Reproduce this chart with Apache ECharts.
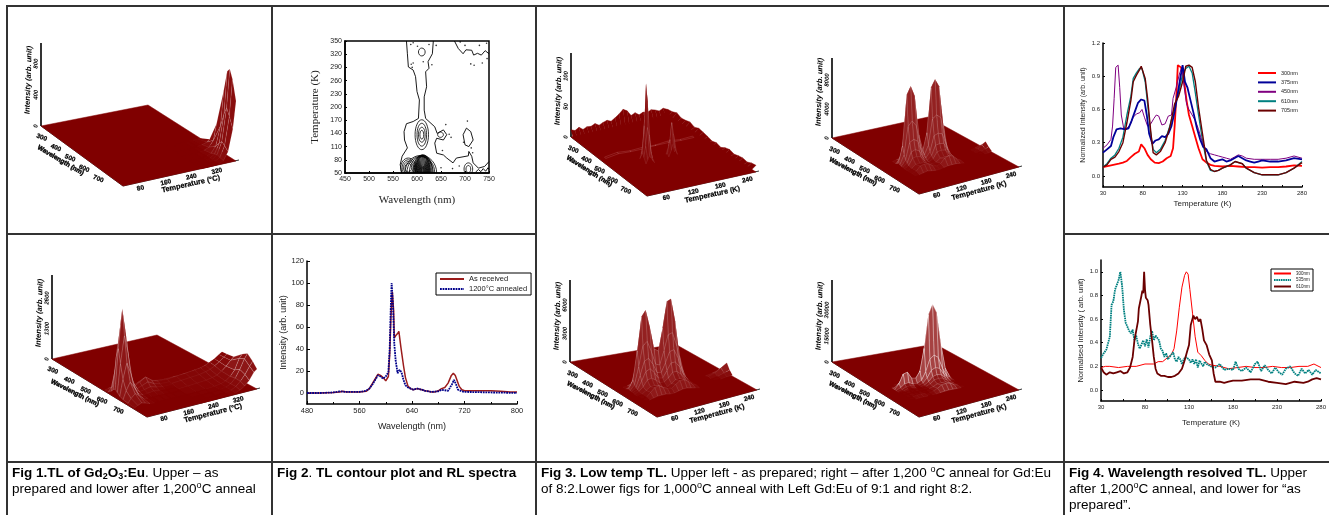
<!DOCTYPE html>
<html><head><meta charset="utf-8">
<style>html,body{margin:0;padding:0;background:#fff}#c{width:1329px;height:515px}</style>
<script src="https://cdn.jsdelivr.net/npm/echarts@6/dist/echarts.min.js"></script>
</head><body><div id="c"></div>
<script>
/* ---------- DATA: Fig 1 surfaces ---------- */
const fig1WavelengthTicks=[300,400,500,600,700];
const fig1TemperatureTicks=[80,160,240,320];
const fig1UpperIntensityTicks=[0,400,800];
const fig1LowerIntensityTicks=[0,1300,2600];
const fig1UpperRows=[643,701,747,794,817,834,852,875];
const fig1UpperCols=[270,290,310,325,340,355,370,380];
const fig1UpperI=[
[0,0,0,0,0,1,3,4],
[0,0,0,1,5,13,32,65],
[0,0,1,4,13,38,115,320],
[0,0,3,10,32,115,360,800],
[0,0,4,15,50,180,540,1080],
[0,0,4,20,65,220,640,1128],
[0,0,4,15,50,190,550,1020],
[0,0,3,10,38,140,420,770]];
const fig1LowerPeakRows=[610,630,650,660,672,685,700,720,750,790];
const fig1LowerPeakCols=[30,40,53,65,80,95,110,130,150,170,200];
const fig1LowerPeakI=[
[6,40,70,50,14,5,7,10,6,4,4],
[24,160,290,200,56,20,28,40,24,16,14],
[135,900,1650,1120,315,112,158,225,135,90,81],
[240,1600,2930,2000,560,200,280,400,240,160,144],
[300,2000,3660,2500,700,250,350,500,300,200,180],
[210,1400,2560,1750,490,175,245,350,210,140,126],
[120,800,1460,1000,280,100,140,200,120,80,72],
[60,400,730,500,140,50,70,100,60,40,36],
[30,200,366,250,70,25,35,50,30,20,18],
[12,80,146,100,28,10,14,20,12,8,7]];
const fig1LowerWallRows=[650,672,700,740,790,820,850,875];
const fig1LowerWallCols=[200,230,260,290,310,325,340,355,370,380];
const fig1LowerWallI=[
[90,100,100,120,140,170,230,300,380,440],
[180,220,250,290,320,380,470,560,700,780],
[120,150,180,210,260,320,420,550,700,800],
[50,70,100,130,170,230,350,520,720,840],
[20,30,45,70,110,180,330,560,1000,1150],
[10,15,25,50,90,180,370,700,1100,1300],
[8,12,20,40,80,190,360,600,900,1080],
[5,8,15,30,60,140,260,450,750,850]];
/* ---------- DATA: Fig 3 surfaces ---------- */
const fig3WavelengthTicks=[300,400,500,600,700];
const fig3TemperatureTicks=[60,120,180,240];
const fig3ULIntensityTicks=[0,50,100];
const fig3URIntensityTicks=[0,4000,8000];
const fig3LLIntensityTicks=[0,3000,6000];
const fig3LRIntensityTicks=[0,15000,30000];
const fig3ULBackCols=[17,27,37,47,57,67,77,87,97,107,117,127,137,147,157,167,177,187,197,207,217,227,237,247,259];
const fig3ULBackRows=[283,300];
const fig3ULBackI=[
[12,9,13,8,11,10,13,9,12,14,11,15,20,26,22,13,16,11,14,12,15,13,10,13,9],
[0,0,0,0,0,0,0,0,0,0,0,0,0,0,0,0,0,0,0,0,0,0,0,0,0]];
const fig3ULSideRows=[283,312,341,370,399,428,457,486,515,544,573,602,631,660,689,718,747,776,805,834,863];
const fig3ULSideCols=[240,259];
const fig3ULSideI=[[0,9],[0,10],[0,13],[0,9],[0,10],[0,12],[0,8],[0,11],[0,9],[0,7],[0,4],[0,6],[0,3],[0,7],[0,9],[0,6],[0,8],[0,9],[0,7],[0,10],[0,11]];
const fig3ULGhostRows=[498,506];
const fig3ULGhostCols=[30,60,90,120,150,180,210,240];
const fig3ULGhostI=[[1,4,2,3,2,4,2,3],[0,3,2,2,3,3,2,2]];
const fig3ULSpikeRows=[590,600,610,620,635];
const fig3ULSpikeCols=[84,88,92,96,100,104];
const fig3ULSpikeI=[[5,10,14,12,8,4],[15,30,70,55,25,10],[22,62,131,100,45,15],[12,30,60,45,20,8],[4,10,16,12,7,3]];
const fig3ULSpike2Rows=[600,610,620];
const fig3ULSpike2Cols=[142,148,152,156,162];
const fig3ULSpike2I=[[5,18,30,22,6],[8,30,57,38,10],[4,14,25,16,5]];
const fig3PeakRows=[570,590,600,610,620,630,640,650,670,700,720];
const fig3URCols=[60,70,80,90,100,110,120,130,140,150,160,170,180];
const fig3URHundreds=[
[0,1,2,3,3,1,0,1,3,3,3,1,0],
[0,4,14,16,14,6,2,5,15,16,15,6,1],
[1,12,47,52,48,20,6,18,50,53,50,22,3],
[3,25,94,105,90,35,12,35,96,106,95,42,6],
[2,14,52,58,50,20,7,19,54,58,53,23,3],
[1,8,31,34,30,12,4,11,32,34,32,14,2],
[1,5,19,21,18,7,2,7,20,21,20,9,1],
[0,3,12,13,11,4,1,4,12,13,12,5,1],
[0,2,6,6,6,2,1,2,6,6,6,3,0],
[0,2,8,9,8,4,2,4,10,12,10,4,1],
[0,0,1,2,1,0,0,1,2,2,2,1,0]];
const fig3BumpRows=[630,650,670,690];
const fig3URBumpCols=[230,240,250,259];
const fig3URBumpHundreds=[[0,1,3,4],[0,2,7,10],[0,1,3,5],[0,0,0,1]];
const fig3LLCols=[40,50,60,70,80,90,100,110,120,130,140,150,160,170];
const fig3LLHundreds=[
[0,0,2,3,3,2,2,1,2,3,3,2,1,0],
[0,2,9,16,18,14,8,8,13,19,19,14,5,1],
[1,5,22,41,45,34,21,19,32,47,48,34,14,3],
[2,10,40,75,81,62,38,35,58,85,87,62,25,6],
[1,6,24,45,49,37,23,21,35,51,52,37,15,4],
[1,4,16,30,32,25,15,14,23,34,35,25,10,2],
[1,3,11,20,22,17,10,9,16,23,23,17,7,2],
[0,2,6,12,13,10,6,6,9,14,14,10,4,1],
[0,1,4,7,7,6,3,3,5,8,8,6,2,1],
[0,1,5,9,10,7,5,4,7,10,10,7,3,1],
[0,0,1,2,2,2,1,1,2,3,3,2,1,0]];
const fig3LLBumpCols=[215,230,245,259];
const fig3LLBumpHundreds=[[0,1,3,4],[1,3,7,11],[0,1,3,5],[0,0,1,1]];
const fig3LRCols=[50,60,70,80,90,100,110,120,130,140,150,160,170,180];
const fig3LRHundreds=[
[0,0,1,1,0,0,1,2,4,5,4,2,1,0],
[0,2,6,6,3,3,5,15,28,31,28,15,5,1],
[1,17,44,47,25,22,41,110,215,245,215,110,33,6],
[2,30,80,85,45,40,75,200,390,445,390,200,60,10],
[1,11,28,30,16,14,26,70,137,156,137,70,21,4],
[0,6,16,17,9,8,15,40,78,89,78,40,12,2],
[0,4,10,10,5,5,9,24,47,53,47,24,7,1],
[0,2,6,7,4,3,6,16,32,36,32,16,5,1],
[0,2,4,4,2,2,4,10,20,22,20,10,3,1],
[0,2,6,7,4,3,6,16,30,33,28,14,4,1],
[0,0,1,1,0,0,1,2,4,5,4,2,1,0]];
/* ---------- DATA: Fig 2 contour ---------- */
const contourLeft=[[578,350],[580,321],[582,291],[592,284],[597,269],[600,235],[605,216],[603,174],[592,167],[578,162],[573,144],[574,125],[580,107],[569,88],[565,69],[568,50]];
const contourRight=[[634,350],[632,321],[623,303],[625,288],[618,280],[620,246],[615,223],[615,193],[618,174],[637,155],[642,140],[655,148],[662,137],[655,125],[641,129],[637,118],[641,95],[655,91],[662,84],[675,73],[682,84],[707,89],[708,99],[714,88],[717,73],[728,61],[741,65],[750,76]];
const contourTopRight=[[678,350],[686,333],[696,321],[702,330],[714,329],[718,318],[726,322],[734,318],[742,328],[750,321]];
const contourIsland=[[703,152],[712,144],[717,125],[708,110],[700,114],[696,137],[703,152]];
const contourSquiggle=[[722,52],[728,58],[733,53],[738,60],[743,54],[748,62],[750,58]];
const contourRings=[[610,325,7,9],[610,137,14,34],[610,137,10,26],[610,137,7,17],[610,137,4,10],[649,137,6,6],
[707,59,9,14],[707,59,5,8],
[582,62,16,22],[582,62,13,18],[582,62,10,14],[582,62,7,10],
[608,50,33,40],[608,50,29,38],[609,50,25,37],
[612,55,20,36],[612,55,18,36],[612,55,16,35],[612,55,15,34],[612,55,14,33],[612,55,13,32],[612,55,12,30],[612,55,11,28],[612,55,10,26],[612,55,9,24],[612,55,8,22],[612,55,7,20],[612,55,6,18],[612,55,5,16],[612,55,4,14],[612,55,3,12],[612,55,2,10],[612,55,1,8]];
const contourDots=[[587,342],[592,346],[601,338],[625,342],[613,303],[588,297],[590,290],[592,300],[631,296],[640,340],[667,138],[671,131],[660,160],[705,168],[713,107],[697,120],[653,101],[688,66],[674,60],[650,62],[716,96],[690,348],[700,340],[730,340],[745,345],[736,300],[712,298],[719,295],[746,310]];
const contourYTicks=[50,80,110,140,170,200,230,260,290,320,350];
/* ---------- DATA: Fig 2 spectra ---------- */
const spectrumAsReceived=[[480,0],[500,0],[520,.5],[530,1],[534,1.5],[540,1],[550,.8],[560,1],[570,1.5],[575,4],[580,9],[585,14],[588,17],[592,16],[596,14],[600,11],[604,15],[606,35],[608,70],[610,92],[612,75],[613,50],[615,52],[618,54],[620,56],[623,42],[627,25],[630,14],[634,6],[638,4],[642,3],[648,4],[655,3],[660,2],[665,1.5],[670,1],[675,1],[680,2],[685,4],[690,5],[695,9],[700,16],[703,18],[706,16],[709,11],[712,6],[716,3],[720,2],[740,2],[760,2],[775,1.5],[790,1],[800,1]];
const spectrumAnnealed=[[480,0],[500,0],[520,.5],[530,1.5],[540,1],[560,1],[570,2],[575,4],[580,8],[585,13],[588,16],[592,15],[596,13],[600,15],[604,19],[606,40],[608,85],[609,100],[611,80],[613,45],[615,30],[618,18],[621,21],[624,19],[627,12],[630,7],[634,5],[638,4],[642,3],[648,4],[655,3],[660,2],[665,1.5],[670,1],[680,1.5],[685,3],[690,2.5],[695,2],[698,2],[701,8],[704,12],[707,8],[710,3],[716,1.5],[720,1],[740,.8],[760,.5],[780,.3],[800,0]];
const spectrumYTicks=[0,20,40,60,80,100,120];
/* ---------- DATA: Fig 4 ---------- */
const tlUpper300=[[30,.08],[40,.095],[50,.11],[55,.12],[60,.135],[65,.17],[70,.2],[75,.22],[78,.285],[82,.25],[86,.19],[90,.15],[95,.12],[100,.115],[105,.13],[110,.16],[115,.18],[118,.25],[120,.45],[122,.7],[124,1],[128,.98],[130,.97],[132,.85],[135,.68],[138,.55],[142,.45],[146,.35],[150,.25],[155,.15],[160,.12],[165,.1],[170,.09],[180,.085],[190,.09],[200,.085],[210,.08],[220,.08],[230,.075],[240,.08],[250,.08],[260,.085],[270,.095],[280,.09]];
const tlUpper375=[[30,.21],[35,.24],[40,.27],[43,.35],[47,.42],[52,.43],[58,.42],[62,.43],[66,.5],[70,.58],[74,.66],[78,.69],[82,.68],[85,.55],[88,.38],[92,.29],[96,.32],[100,.33],[104,.36],[108,.35],[112,.38],[116,.45],[120,.58],[124,.75],[127,.88],[130,1],[133,.85],[136,.8],[140,.68],[144,.56],[148,.43],[152,.33],[156,.26],[160,.24],[165,.16],[170,.13],[175,.14],[180,.15],[185,.13],[190,.14],[195,.16],[200,.18],[205,.16],[210,.14],[215,.13],[220,.12],[225,.13],[230,.14],[240,.13],[250,.13],[260,.14],[270,.16],[280,.15]];
const tlUpper450=[[30,.25],[35,.28],[40,.33],[42,.45],[44,.7],[46,.98],[49,1],[51,.8],[53,.55],[56,.43],[60,.43],[64,.46],[68,.53],[72,.56],[76,.57],[79,.6],[82,.53],[86,.45],[90,.47],[94,.52],[97,.55],[100,.54],[104,.46],[108,.47],[112,.54],[116,.55],[118,.7],[122,.8],[126,.92],[129,.98],[132,.8],[135,.65],[138,.6],[142,.55],[146,.5],[150,.42],[155,.3],[160,.22],[165,.2],[170,.19],[175,.18],[180,.17],[185,.16],[190,.15],[195,.17],[200,.19],[205,.18],[210,.16],[220,.15],[230,.15],[240,.15],[250,.15],[260,.16],[270,.18],[280,.16]];
const tlUpper610=[[30,.08],[35,.11],[40,.16],[45,.19],[50,.25],[55,.35],[60,.55],[65,.72],[68,.88],[72,.93],[76,.97],[79,.97],[83,.85],[86,.65],[90,.38],[93,.24],[97,.21],[102,.24],[108,.32],[114,.45],[120,.62],[125,.75],[130,.92],[134,.97],[138,.99],[142,.93],[146,.75],[150,.55],[155,.32],[160,.13],[165,.05],[170,.04],[175,.05],[180,.07],[190,.1],[196,.13],[205,.11],[210,.07],[220,.03],[230,.01],[240,.01],[250,.01],[260,.03],[270,.07],[280,.13]];
const tlUpper705=[[30,.08],[35,.1],[40,.15],[45,.17],[50,.22],[55,.3],[60,.48],[65,.68],[68,.85],[72,.91],[76,.96],[78,.99],[83,.88],[86,.7],[90,.4],[93,.21],[97,.19],[102,.22],[108,.3],[114,.44],[120,.65],[125,.72],[130,.85],[134,.99],[138,1],[142,.98],[146,.85],[150,.62],[155,.38],[160,.14],[165,.06],[170,.04],[175,.05],[180,.07],[190,.1],[196,.13],[205,.11],[210,.07],[220,.03],[230,.01],[240,.01],[250,.01],[260,.03],[270,.07],[280,.12]];
const tlLower300=[[30,.19],[35,.2],[40,.2],[50,.19],[60,.2],[70,.2],[80,.22],[90,.22],[95,.24],[100,.24],[105,.27],[110,.3],[113,.35],[116,.5],[119,.7],[122,.87],[125,.97],[127,1],[129,.98],[131,.85],[134,.65],[137,.45],[140,.32],[144,.29],[148,.25],[152,.22],[156,.21],[165,.2],[175,.18],[185,.19],[195,.2],[205,.19],[215,.19],[225,.2],[235,.19],[245,.19],[255,.2],[265,.2],[272,.22],[280,.19]];
const tlLower535=[[30,.27],[33,.31],[36,.34],[38,.33],[40,.45],[42,.72],[44,.75],[46,.85],[48,.86],[50,.93],[52,1],[54,.88],[56,.68],[58,.57],[60,.56],[62,.5],[64,.48],[66,.51],[68,.42],[70,.46],[72,.39],[74,.35],[76,.36],[78,.42],[80,.37],[82,.43],[84,.36],[86,.45],[88,.5],[90,.42],[92,.46],[94,.47],[96,.42],[98,.35],[100,.33],[102,.28],[104,.31],[106,.26],[108,.27],[110,.3],[112,.32],[114,.26],[116,.24],[118,.28],[120,.26],[122,.22],[124,.26],[126,.28],[128,.29],[130,.26],[132,.23],[134,.26],[136,.22],[138,.26],[140,.19],[142,.25],[144,.24],[146,.2],[148,.24],[150,.22],[155,.2],[160,.19],[165,.22],[170,.17],[175,.18],[180,.17],[183,.24],[186,.18],[190,.16],[195,.19],[200,.15],[205,.22],[208,.24],[212,.16],[216,.21],[220,.17],[224,.14],[228,.19],[232,.15],[236,.13],[240,.18],[245,.2],[250,.14],[254,.12],[258,.18],[262,.14],[266,.17],[270,.13],[274,.17],[280,.14]];
const tlLower610=[[30,.19],[33,.15],[36,.13],[40,.15],[44,.14],[48,.15],[52,.16],[56,.14],[60,.15],[63,.19],[66,.28],[68,.42],[70,.5],[72,.58],[73,.69],[75,.7],[76,.8],[77,.84],[78,.82],[79,1],[80,.85],[81,.78],[83,.76],[84,.72],[86,.55],[88,.42],[90,.28],[92,.18],[94,.14],[98,.12],[102,.12],[106,.11],[110,.11],[114,.12],[118,.14],[122,.18],[125,.25],[128,.33],[130,.38],[132,.55],[134,.54],[135,.63],[137,.6],[139,.62],[141,.58],[143,.6],[145,.52],[147,.42],[150,.38],[153,.3],[156,.25],[158,.14],[160,.07],[165,.07],[170,.06],[175,.07],[180,.08],[190,.08],[200,.09],[210,.09],[220,.07],[230,.06],[240,.05],[245,.06],[250,.07],[260,.06],[265,.07],[270,.09],[275,.1],[280,.09]];
const tlXLabels=[30,80,130,180,230,280];
const tlXTicks=[30,55,80,105,130,155,180,205,230,255,280];
const tlUpperYTicks=[0,.3,.6,.9,1.2];
const tlLowerYTicks=[0,.2,.4,.6,.8,1];

/* ---------- LAYOUT ---------- */
const SANS='"Liberation Sans",Arial,sans-serif', SERIF='"Liberation Serif","Times New Roman",serif';
const RED='#800000';
const fig1Range={wl:[295,875],temp:[25,380]}, fig3Range={wl:[283,863],temp:[17,259]};
const panels=[
 {rect:[8,7,263,226],L:[41,126],F:[123,186],R:[236,161],B:[148,105],zTop:43,zPx:[62.4,800],range:fig1Range,wlT:fig1WavelengthTicks,tT:fig1TemperatureTicks,zT:fig1UpperIntensityTicks,tName:'Temperature (°C)',mesh:.16,light:.12,
  patches:[{rows:fig1UpperRows,cols:fig1UpperCols,z:fig1UpperI,unit:1}]},
 {rect:[8,235,263,226],L:[52,359],F:[147,417],R:[257,389],B:[157,335],zTop:275,zPx:[61,2600],range:fig1Range,wlT:fig1WavelengthTicks,tT:fig1TemperatureTicks,zT:fig1LowerIntensityTicks,tName:'Temperature (°C)',mesh:.28,light:.2,
  patches:[{rows:fig1LowerWallRows,cols:fig1LowerWallCols,z:fig1LowerWallI,unit:1},{rows:fig1LowerPeakRows,cols:fig1LowerPeakCols,z:fig1LowerPeakI,unit:1}]},
 {rect:[537,7,263,226],L:[571,137],F:[647,196],R:[756,172],B:[668,115],zTop:53,zPx:[61,100],range:fig3Range,wlT:fig3WavelengthTicks,tT:fig3TemperatureTicks,zT:fig3ULIntensityTicks,tName:'Temperature (K)',mesh:.12,light:.08,
  patches:[{rows:fig3ULBackRows,cols:fig3ULBackCols,z:fig3ULBackI,unit:1,flat:true},{rows:fig3ULSideRows,cols:fig3ULSideCols,z:fig3ULSideI,unit:1,flat:true},{rows:fig3ULGhostRows,cols:fig3ULGhostCols,z:fig3ULGhostI,unit:1,streak:true},{rows:fig3ULSpike2Rows,cols:fig3ULSpike2Cols,z:fig3ULSpike2I,unit:1},{rows:fig3ULSpikeRows,cols:fig3ULSpikeCols,z:fig3ULSpikeI,unit:1}]},
 {rect:[801,7,263,226],L:[832,138],F:[919,194],R:[1019,167],B:[928,117],zTop:58,zPx:[58,8000],range:fig3Range,wlT:fig3WavelengthTicks,tT:fig3TemperatureTicks,zT:fig3URIntensityTicks,tName:'Temperature (K)',mesh:.22,light:.3,
  patches:[{rows:fig3BumpRows,cols:fig3URBumpCols,z:fig3URBumpHundreds,unit:100},{rows:fig3PeakRows,cols:fig3URCols,z:fig3URHundreds,unit:100}]},
 {rect:[537,235,263,226],L:[570,362],F:[657,417],R:[757,390],B:[675,344],zTop:280,zPx:[57,6000],range:fig3Range,wlT:fig3WavelengthTicks,tT:fig3TemperatureTicks,zT:fig3LLIntensityTicks,tName:'Temperature (K)',mesh:.22,light:.3,
  patches:[{rows:fig3BumpRows,cols:fig3LLBumpCols,z:fig3LLBumpHundreds,unit:100},{rows:fig3PeakRows,cols:fig3LLCols,z:fig3LLHundreds,unit:100}]},
 {rect:[801,235,263,226],L:[832,362],F:[919,417],R:[1019,390],B:[935,344],zTop:280,zPx:[52,30000],range:fig3Range,wlT:fig3WavelengthTicks,tT:fig3TemperatureTicks,zT:fig3LRIntensityTicks,tName:'Temperature (K)',mesh:.6,light:.6,
  patches:[{rows:fig3PeakRows,cols:fig3LRCols,z:fig3LRHundreds,unit:100}]}
];

function project(p,wl,t,i){
  const r=(wl-p.range.wl[0])/(p.range.wl[1]-p.range.wl[0]), s=(t-p.range.temp[0])/(p.range.temp[1]-p.range.temp[0]);
  const x=(1-r)*(1-s)*p.L[0]+r*(1-s)*p.F[0]+(1-r)*s*p.B[0]+r*s*p.R[0];
  const y=(1-r)*(1-s)*p.L[1]+r*(1-s)*p.F[1]+(1-r)*s*p.B[1]+r*s*p.R[1];
  return [x-p.rect[0], y-i*p.zPx[0]/p.zPx[1]-p.rect[1]];
}
function offset(pt,dx,dy){return [pt[0]+dx,pt[1]+dy];}
function mixHex(t){const a=[128,0,0],b=[192,110,110];return 'rgb('+a.map((v,k)=>Math.round(v+(b[k]-v)*t)).join(',')+')';}

function buildItems(p){
  const items=[];
  const wl0=p.range.wl[0],wl1=p.range.wl[1],t0=p.range.temp[0],t1=p.range.temp[1];
  const corner=(w,t,i)=>project(p,w,t,i||0);
  const rad=d=>d*Math.PI/180;
  items.push({k:'line',pts:[corner(wl0,t0),[p.L[0]-p.rect[0],p.zTop-p.rect[1]]],w:1.6});
  items.push({k:'line',pts:[corner(wl0,t0),corner(wl1,t0)],w:.8});
  items.push({k:'line',pts:[corner(wl1,t0),offset(corner(wl1,t1),3,-1)],w:.8});
  items.push({k:'poly',pts:[corner(wl0,t0),corner(wl1,t0),corner(wl1,t1),corner(wl0,t1)],fill:RED,stroke:RED,w:.5});
  p.patches.forEach(pa=>{
    const q=[];
    for(let a=0;a<pa.rows.length-1;a++)for(let b=0;b<pa.cols.length-1;b++){
      const ws=[pa.rows[a],pa.rows[a],pa.rows[a+1],pa.rows[a+1]],ts=[pa.cols[b],pa.cols[b+1],pa.cols[b+1],pa.cols[b]];
      const zs=[pa.z[a][b],pa.z[a][b+1],pa.z[a+1][b+1],pa.z[a+1][b]].map(v=>v*pa.unit);
      const pts=ws.map((w,n)=>project(p,w,ts[n],zs[n]));
      const dz=(Math.max(...zs)-Math.min(...zs))*p.zPx[0]/p.zPx[1];
      const steep=Math.min(1,dz/10);
      const depth=(ws[0]-wl0)/(wl1-wl0)-(ts[0]-t0)/(t1-t0);
      if(pa.flat) q.push({k:'poly',pts,fill:RED,stroke:RED,w:.4,depth});
      else if(pa.streak) q.push({k:'poly',pts,fill:RED,stroke:'rgba(255,210,210,.3)',w:.5,depth});
      else q.push({k:'poly',pts,fill:mixHex(steep*p.light),stroke:steep>.1?'rgba(255,255,255,'+(steep*p.mesh)+')':RED,w:.6,depth});
    }
    q.sort((u,v)=>u.depth-v.depth);
    q.forEach(it=>items.push(it));
  });
  const tick='bold 6.5px '+SANS;
  const wlDx=(p.F[0]-p.L[0]),wlDy=(p.F[1]-p.L[1]);
  const wlRot=-Math.atan2(wlDy,wlDx)*.85, tRot=Math.atan2(p.F[1]-p.R[1],p.R[0]-p.F[0]);
  p.wlT.forEach(v=>items.push({k:'text',pos:offset(corner(v,t0),0,11),rot:-rad(22),text:String(v),font:tick,heavy:.25}));
  p.tT.forEach(v=>items.push({k:'text',pos:offset(corner(wl1,v),0,6),rot:tRot,text:String(v),font:tick,heavy:.25}));
  items.push({k:'text',pos:offset(corner(wl0+.24*(wl1-wl0),t0),0,20),rot:wlRot,text:'Wavelength (nm)',font:'bold 6.6px '+SANS,heavy:.4});
  items.push({k:'text',pos:offset(corner(wl1,t0+.6*(t1-t0)),0,13),rot:tRot,text:p.tName,font:'bold 7.4px '+SANS,heavy:.2});
  const lx=p.L[0]-p.rect[0], ly=p.L[1]-p.rect[1];
  items.push({k:'text',pos:[lx-12.5,ly-46],rot:rad(88),text:'Intensity (arb. unit)',font:'italic bold 7.6px '+SANS});
  p.zT.forEach(v=>items.push({k:'text',pos:[lx-5,ly-v*p.zPx[0]/p.zPx[1]],rot:rad(88),text:String(v),font:'italic bold 6px '+SANS}));
  return items;
}
function panelSeries(p,idx){
  const items=buildItems(p);
  return {type:'custom',xAxisIndex:idx,yAxisIndex:idx,coordinateSystem:'cartesian2d',silent:true,clip:false,progressive:0,animation:false,
    data:items.map((_,i)=>[0,0,i]),
    renderItem(params,api){
      const it=items[params.dataIndex];
      if(it.k==='text'){const c=api.coord(it.pos);
        return {type:'text',x:c[0],y:c[1],rotation:it.rot,style:{x:0,y:0,text:it.text,font:it.font,fill:'#000',stroke:it.heavy?'#000':null,lineWidth:it.heavy||0,align:'center',verticalAlign:'middle'}};}
      const pts=it.pts.map(a=>api.coord(a));
      if(it.k==='line')return {type:'polyline',shape:{points:pts},style:{stroke:'#000',fill:null,lineWidth:it.w}};
      return {type:'polygon',shape:{points:pts},style:{fill:it.fill,stroke:it.stroke,lineWidth:it.w}};
    }};
}

const grids=[],xAxes=[],yAxes=[],series=[],legends=[];
panels.forEach((p,i)=>{
  grids.push({left:p.rect[0],top:p.rect[1],width:p.rect[2],height:p.rect[3],show:false});
  xAxes.push({gridIndex:i,type:'value',min:0,max:p.rect[2],show:false});
  yAxes.push({gridIndex:i,type:'value',min:0,max:p.rect[3],inverse:true,show:false});
  series.push(panelSeries(p,i));
});
function addGrid(g,x,y){const i=grids.length;grids.push(g);xAxes.push(Object.assign({gridIndex:i,type:'value'},x));yAxes.push(Object.assign({gridIndex:i,type:'value'},y));return i;}
const black={lineStyle:{color:'#000',width:1.5}};
const lab=s=>({fontSize:s,color:'#222',fontFamily:SANS,margin:3});
const lineS=(i,name,data,color,width,type)=>({type:'line',name,xAxisIndex:i,yAxisIndex:i,data,symbol:'none',animation:false,silent:true,lineStyle:{color,width,type:type||'solid'},itemStyle:{color}});
const noMarker={opacity:0};

/* Fig 2 contour */
const g1=addGrid({left:345,top:41,width:144,height:132,show:true,borderColor:'#000',borderWidth:1.5,backgroundColor:'#fff'},
 {min:450,max:750,interval:50,splitLine:{show:false},axisLine:black,axisTick:{inside:true,length:2,lineStyle:{color:'#000'}},axisLabel:lab(7),name:'Wavelength (nm)',nameLocation:'middle',nameGap:22,nameTextStyle:{fontFamily:SERIF,fontSize:11,color:'#222'}},
 {min:50,max:350,splitLine:{show:false},axisLine:black,axisTick:{inside:true,length:2,customValues:contourYTicks,lineStyle:{color:'#000'}},axisLabel:Object.assign(lab(7),{customValues:contourYTicks}),name:'Temperature (K)',nameLocation:'middle',nameGap:24,nameTextStyle:{fontFamily:SERIF,fontSize:11,color:'#222'}});
[contourLeft,contourRight,contourTopRight,contourIsland,contourSquiggle].forEach((c,n)=>series.push(lineS(g1,'contour'+n,c,'#000',.9)));
series.push({type:'custom',xAxisIndex:g1,yAxisIndex:g1,animation:false,silent:true,progressive:0,encode:{x:0,y:1},data:contourRings,
  renderItem(params,api){const c=api.coord([api.value(0),api.value(1)]),s=api.size([api.value(2),api.value(3)]);
   return {type:'ellipse',shape:{cx:c[0],cy:c[1],rx:s[0],ry:s[1]},style:{fill:'transparent',stroke:'#000',lineWidth:.8},clipPath:{type:'rect',shape:{x:params.coordSys.x,y:params.coordSys.y,width:params.coordSys.width,height:params.coordSys.height}}};}});
series.push({type:'scatter',xAxisIndex:g1,yAxisIndex:g1,data:contourDots,symbolSize:1.6,itemStyle:{color:'#000'},animation:false,silent:true});

/* Fig 2 spectra */
const g2=addGrid({left:307,top:261,width:210,height:143},
 {min:480,max:800,interval:80,splitLine:{show:false},axisLine:Object.assign({onZero:false},black),axisTick:{inside:true,length:3,lineStyle:{color:'#000'}},minorTick:{show:true,splitNumber:2,length:2},axisLabel:lab(7.5),name:'Wavelength (nm)',nameLocation:'middle',nameGap:18,nameTextStyle:{fontFamily:SANS,fontSize:9,color:'#222'}},
 {min:-10,max:120,splitLine:{show:false},axisLine:Object.assign({onZero:false},black),axisTick:{inside:true,length:3,customValues:spectrumYTicks,lineStyle:{color:'#000'}},axisLabel:Object.assign(lab(7.5),{customValues:spectrumYTicks}),name:'Intensity (arb. unit)',nameLocation:'middle',nameGap:17,nameTextStyle:{fontFamily:SANS,fontSize:9,color:'#222'}});
series.push(lineS(g2,'As received',spectrumAsReceived,'#9b1c1c',1.5));
series.push(lineS(g2,'1200°C annealed',spectrumAnnealed,'#00008b',1.8,[1.8,.8]));
legends.push({data:['As received','1200°C annealed'],orient:'vertical',left:436,top:273,itemWidth:24,itemHeight:4,itemGap:2,padding:[2,4,2,3],borderColor:'#000',borderWidth:1,backgroundColor:'#fff',textStyle:{fontSize:7.5,fontFamily:SANS,color:'#222'},selectedMode:false,itemStyle:noMarker});

/* Fig 4 */
const xTL={min:30,max:280,splitLine:{show:false},axisLine:Object.assign({onZero:false},black),axisTick:{inside:true,length:2,customValues:tlXTicks,lineStyle:{color:'#000'}},axisLabel:Object.assign(lab(6),{customValues:tlXLabels}),nameLocation:'middle',name:'Temperature (K)',nameTextStyle:{fontFamily:SANS,fontSize:8,color:'#222'}};
const f1=v=>v.toFixed(1);
const g3=addGrid({left:1103,top:43,width:199,height:144},Object.assign({},xTL,{nameGap:13}),
 {min:-.1,max:1.2,splitLine:{show:false},axisLine:Object.assign({onZero:false},black),axisTick:{inside:true,length:2,customValues:tlUpperYTicks,lineStyle:{color:'#000'}},axisLabel:Object.assign(lab(6),{customValues:tlUpperYTicks,formatter:f1}),name:'Normalized Intensity (arb. unit)',nameLocation:'middle',nameGap:16,nameTextStyle:{fontFamily:SANS,fontSize:7,color:'#222'}});
series.push(lineS(g3,'300nm',tlUpper300,'#ff0000',1.8));
series.push(lineS(g3,'610nm',tlUpper610,'#008080',1.3));
series.push(lineS(g3,'450nm',tlUpper450,'#800080',1));
series.push(lineS(g3,'375nm',tlUpper375,'#000099',1.8));
series.push(lineS(g3,'705nm',tlUpper705,'#6b0000',1.4));
legends.push({data:['300nm','375nm','450nm','610nm','705nm'],orient:'vertical',left:1257,top:70,itemWidth:18,itemHeight:3,itemGap:3.4,padding:0,textStyle:{fontSize:5.5,fontFamily:SANS,color:'#222'},selectedMode:false,itemStyle:noMarker});

const g4=addGrid({left:1101,top:260,width:220,height:141},Object.assign({},xTL,{nameGap:18}),
 {min:-.093,max:1.1,splitLine:{show:false},axisLine:Object.assign({onZero:false},black),axisTick:{inside:true,length:2,customValues:tlLowerYTicks,lineStyle:{color:'#000'}},axisLabel:Object.assign(lab(6),{customValues:tlLowerYTicks,formatter:f1}),name:'Normalised Intensity ( arb. unit)',nameLocation:'middle',nameGap:16,nameTextStyle:{fontFamily:SANS,fontSize:7.5,color:'#222'}});
series.push(lineS(g4,'300nm ',tlLower300,'#ff0000',1));
series.push(lineS(g4,'535nm',tlLower535,'#008080',1.8,[1.6,.7]));
series.push(lineS(g4,'610nm ',tlLower610,'#6b0000',1.8));
legends.push({data:['300nm ','535nm','610nm '],orient:'vertical',left:1271,top:269,itemWidth:17,itemHeight:3,itemGap:1.5,padding:[2,2,2,2],borderColor:'#000',borderWidth:1,backgroundColor:'#fff',textStyle:{fontSize:4.5,fontFamily:SANS,color:'#222'},selectedMode:false,itemStyle:noMarker});

/* Table rules and captions */
const rule=(x1,y1,x2,y2)=>({type:'line',silent:true,shape:{x1,y1,x2,y2},style:{stroke:'#333',lineWidth:2}});
const capRich={b:{fontSize:13.5,fontWeight:'bold',fontFamily:SANS,color:'#000',lineHeight:16},n:{fontSize:13.5,fontFamily:SANS,color:'#000',lineHeight:16},
  bs:{fontSize:9,fontWeight:'bold',fontFamily:SANS,color:'#000',verticalAlign:'bottom',lineHeight:16},ns:{fontSize:9,fontFamily:SANS,color:'#000',verticalAlign:'top',lineHeight:16}};
const caption=(x,y,text)=>({type:'text',silent:true,x,y,style:{text,rich:capRich,fill:'#000'}});
const graphics=[
 rule(7,6,1329,6),rule(7,5,7,515),rule(272,6,272,515),rule(536,6,536,515),rule(1064,6,1064,515),
 rule(7,234,536,234),rule(1064,234,1329,234),rule(7,462,1329,462),
 caption(12,465,'{b|Fig 1.TL of Gd}{bs|2}{b|O}{bs|3}{b|:Eu}{n|. Upper – as}\n{n|prepared and lower after 1,200}{ns|o}{n|C anneal}'),
 caption(277,465,'{b|Fig 2}{n|. }{b|TL contour plot and RL spectra}'),
 caption(541,465,'{b|Fig 3. Low temp TL.}{n| Upper left - as prepared; right – after 1,200 }{ns|o}{n|C anneal for Gd:Eu}\n{n|of 8:2.Lower figs for 1,000}{ns|o}{n|C anneal with Left Gd:Eu of 9:1 and right 8:2.}'),
 caption(1069,465,'{b|Fig 4. Wavelength resolved TL.}{n| Upper}\n{n|after 1,200}{ns|o}{n|C anneal, and lower for “as}\n{n|prepared”.}')
];

const chart=echarts.init(document.getElementById('c'),null,{renderer:'canvas'});
chart.setOption({animation:false,backgroundColor:'#fff',grid:grids,xAxis:xAxes,yAxis:yAxes,series,legend:legends,graphic:graphics,tooltip:{show:false}});
</script></body></html>
